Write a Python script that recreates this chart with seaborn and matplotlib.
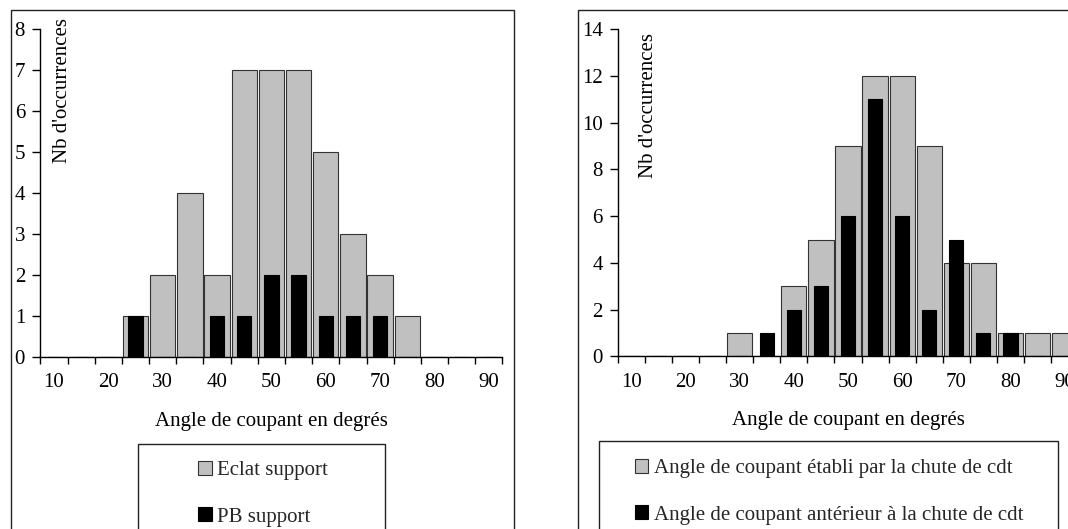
import numpy as np
import pandas as pd
import matplotlib
matplotlib.use("Agg")
import matplotlib.pyplot as plt
from matplotlib.patches import Patch, Rectangle
import seaborn as sns

# Data (5 degree classes, 10..90)
angles = [10, 15, 20, 25, 30, 35, 40, 45, 50, 55, 60, 65, 70, 75, 80, 85, 90]
eclat_support = [0, 0, 0, 1, 2, 4, 2, 7, 7, 7, 5, 3, 2, 1, 0, 0, 0]
pb_support = [0, 0, 0, 1, 0, 0, 1, 1, 2, 2, 1, 1, 1, 0, 0, 0, 0]
chute_etabli = [0, 0, 0, 0, 1, 0, 3, 5, 9, 12, 12, 9, 4, 4, 1, 1, 1]
chute_anterieur = [0, 0, 0, 0, 0, 1, 2, 3, 6, 11, 6, 2, 5, 1, 1, 0, 0]

left_labels = ["Eclat support", "PB support"]
right_labels = ["Angle de coupant établi par la chute de cdt",
                "Angle de coupant antérieur à la chute de cdt"]
x_title = "Angle de coupant en degrés"
y_title = "Nb d'occurrences"

GREY = "#C0C0C0"
EDGE = "#333333"
FS = 15

sns.set_theme(style="white")
plt.rcParams["font.family"] = ["Liberation Serif", "DejaVu Serif"]

W, H = 1068, 529
fig = plt.figure(figsize=(W / 100, H / 100), dpi=100)


def fx(x):
    return x / W


def fy(y):
    return 1 - y / H


def draw_panel(box, back, front, labels, ymax, ystep, frame, legbox, leg_x, leg_top, ylab_x, ylab_top):
    x0, y0, x1, y1 = box
    ax = fig.add_axes([fx(x0), fy(y1), (x1 - x0) / W, (y1 - y0) / H])
    df = pd.DataFrame({"angle": [str(a) for a in angles], "back": back, "front": front})
    order = df["angle"].tolist()
    sns.barplot(data=df, x="angle", y="back", order=order, color=GREY, saturation=1,
                width=0.93, edgecolor=EDGE, linewidth=0.8, ax=ax)
    sns.barplot(data=df, x="angle", y="front", order=order, color="black", saturation=1,
                width=0.53, edgecolor="black", linewidth=0.8, ax=ax)

    ax.set_xlim(-0.5, len(angles) - 0.5)
    ax.set_ylim(0, ymax)
    ax.set_yticks(np.arange(0, ymax + 1, ystep))
    ax.set_xticks(range(0, len(angles), 2))
    ax.set_xticklabels([str(a) for a in angles[::2]])
    ax.set_xticks(np.arange(-0.5, len(angles), 1), minor=True)

    for s in ["top", "right"]:
        ax.spines[s].set_visible(False)
    for s in ["left", "bottom"]:
        ax.spines[s].set_color("black")
        ax.spines[s].set_linewidth(1)

    ax.tick_params(axis="y", which="major", left=True, length=6, width=1, pad=5,
                   labelsize=FS, colors="black")
    ax.tick_params(axis="x", which="major", bottom=True, length=0, pad=12,
                   labelsize=FS, colors="black")
    ax.tick_params(axis="x", which="minor", bottom=True, length=5, width=1, colors="black")

    ax.set_xlabel(x_title, fontsize=FS, color="black", va="center")
    ax.xaxis.set_label_coords(0.5, (y1 - 421) / (y1 - y0))
    ax.set_ylabel(y_title, fontsize=FS, color="black")
    ax.yaxis.label.set(rotation_mode="default", ha="center", va="top")
    ax.yaxis.set_label_coords((ylab_x - x0) / (x1 - x0), (y1 - ylab_top) / (y1 - y0))

    handles = [Patch(facecolor=GREY, edgecolor=EDGE, linewidth=0.8),
               Patch(facecolor="black", edgecolor="black", linewidth=0.8)]
    fig.legend(handles, labels, loc="upper center", bbox_to_anchor=(fx(leg_x), fy(leg_top)),
               frameon=False, fontsize=FS, handlelength=0.65, handleheight=0.65,
               handletextpad=0.25, labelspacing=1.3, borderpad=0, borderaxespad=0)

    fl, ft, fr, fb = frame
    fig.add_artist(Rectangle((fx(fl), fy(fb)), (fr - fl) / W, (fb - ft) / H,
                             transform=fig.transFigure, fill=False, edgecolor="#222222", lw=1))
    ll, lt, lr, lb = legbox
    fig.add_artist(Rectangle((fx(ll), fy(lb)), (lr - ll) / W, (lb - lt) / H,
                             transform=fig.transFigure, fill=False, edgecolor="#222222", lw=1))
    return ax


draw_panel((40.4, 29.3, 502.4, 356.6), eclat_support, pb_support, left_labels, 8, 1,
           (11, 10, 514, 560), (138, 444, 385, 560), 263, 461, 62.5, 18)
draw_panel((618, 29.3, 1078, 356.3), chute_etabli, chute_anterieur, right_labels, 14, 2,
           (577.5, 10, 1100, 560), (599, 441, 1058, 560), 829, 459, 648.5, 33)

fig.savefig("out.png", dpi=100)
